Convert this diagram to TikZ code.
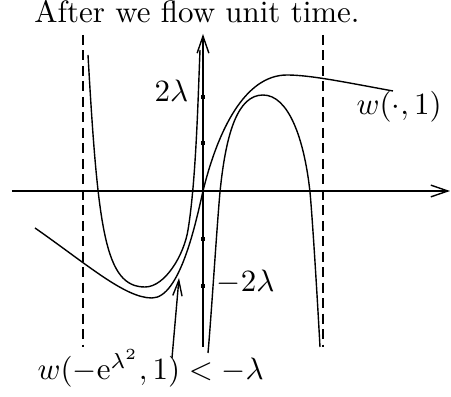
\documentclass[tikz,border=0pt]{standalone}
\usepackage{amsmath}
\usepackage{tikz}
\usetikzlibrary{arrows.meta}

\begin{document}
\begin{tikzpicture}[
  x=0.323pt, y=-0.323pt,
  axis/.style={line width=0.45pt, -{Straight Barb[length=5.5pt, width=3.8pt]}},
  curve/.style={line width=0.45pt},
  guide/.style={line width=0.45pt, dash pattern=on 3.2pt off 1.8pt},
  tick/.style={fill=black},
  pointer/.style={line width=0.45pt, -{Straight Barb[length=5pt, width=3pt]}}
]
  \useasboundingbox (0,0) rectangle (451,397);

  \node[anchor=base] (title) at (197,23) {After we flow unit time.};

  % axes and guides
  \draw[axis] (12,191) -- (450,191);
  \draw[axis] (203,347) -- (203,34);
  \draw[guide] (83,35) -- (83,347);
  \draw[guide] (323,35) -- (323,347);

  \foreach \y in {97,143,239,286}
    \fill[tick] (201,\y-2) rectangle (205,\y+2);

  \node[anchor=base east, inner sep=1pt] (lamtop) at (192,102) {$2\lambda$};
  \node[anchor=base west, inner sep=1pt] (lambot) at (213,292) {$-2\lambda$};

  % the three graphs
  \draw[curve] (88,55) .. controls (98,230) and (105,287) .. (145,287)
    .. controls (165,287) and (184,255) .. (188,230)
    .. controls (196,181) and (198,100) .. (200,50);
  \draw[curve] (35,228) .. controls (88,265) and (125,298) .. (152,298)
    .. controls (180,298) and (196,222) .. (203,191)
    .. controls (218,130) and (245,75) .. (287,75)
    .. controls (310,75) and (344,82) .. (393,91);
  \draw[curve] (208,353) .. controls (211,320) and (217,225) .. (220,192)
    .. controls (226,132) and (238,95) .. (263,95)
    .. controls (288,95) and (304,137) .. (310,192)
    .. controls (313,225) and (318,310) .. (320,347);

  \node[anchor=base west, inner sep=1pt] (wlabel) at (353,115) {$w(\cdot,1)$};
  \node[anchor=base west, inner sep=1pt] (wneg) at (34,380) {$w(-\mathrm{e}^{\lambda^2},1)<-\lambda$};

  \coordinate (tail) at (172,358);
  \coordinate (tip) at (179,278);
  \draw[pointer] (tail) -- (tip);
\end{tikzpicture}
\end{document}
